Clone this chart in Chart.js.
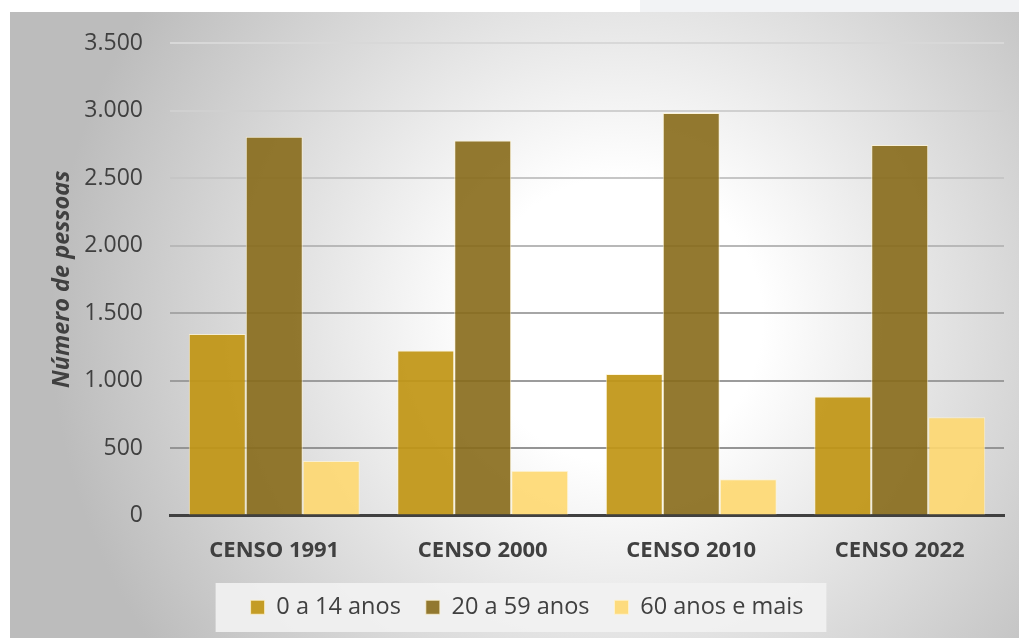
<!DOCTYPE html>
<html>
<head>
<meta charset="utf-8">
<script src="https://cdn.jsdelivr.net/npm/chart.js@4/dist/chart.umd.min.js"></script>
<style>
  html, body { margin: 0; padding: 0; background: #fff; }
  #wrap { width: 1019px; height: 638px; position: relative; }
</style>
</head>
<body>
<div id="wrap"><canvas id="censoChart"></canvas></div>
<script>
const $ = (id) => document.getElementById(id);

const censos = ["CENSO 1991", "CENSO 2000", "CENSO 2010", "CENSO 2022"];
const faixa0a14 = [1345, 1222, 1048, 881];
const faixa20a59 = [2806, 2777, 2982, 2745];
const faixa60mais = [403, 332, 269, 727];
const yTicks = [0, 500, 1000, 1500, 2000, 2500, 3000, 3500];

const TEXT = "#404040";
const FONT = "'Open Sans', 'Noto Sans', sans-serif";

function fmtPt(n) {
  return String(n).replace(/\B(?=(\d{3})+(?!\d))/g, ".");
}

// lighter grid at the top, darker near the axis
const gridShade = {
  0: "rgba(0,0,0,0)", 500: "#949494", 1000: "#9c9c9c", 1500: "#a6a6a6",
  2000: "#b8b8b8", 2500: "#c6c6c6", 3000: "#d0d0d0", 3500: "#d8d8d8",
};

const LEGEND_SHIFT = 20;

const backdrop = {
  id: "backdrop",
  afterLayout(chart) {
    const lg = chart.legend;
    lg.left += LEGEND_SHIFT;
    lg.right += LEGEND_SHIFT;
  },
  beforeDraw(chart) {
    const { ctx, width, height } = chart;
    ctx.save();
    ctx.fillStyle = "#ffffff";
    ctx.fillRect(0, 0, width, height);
    ctx.fillStyle = "#f2f3f5";
    ctx.fillRect(640, 0, width - 640, 12);

    const g = ctx.createRadialGradient(620, 320, 0, 620, 320, 570);
    g.addColorStop(0, "#ffffff");
    g.addColorStop(0.25, "#ffffff");
    g.addColorStop(1, "#bcbcbc");
    ctx.fillStyle = g;
    ctx.fillRect(10, 12, width - 10, height - 12);

    // legend panel, built from the legend's own layout
    const lg = chart.legend;
    const pad = lg.options.labels.padding;
    const lw = lg.lineWidths[0];
    const x0 = (lg.left + pad + lg.right - lw) / 2;
    const x1 = x0 + lw - pad;
    const cy = lg.top + pad + 11.5;
    ctx.fillStyle = "rgba(242,242,242,0.9)";
    ctx.fillRect(x0 - 35, cy - 24, x1 - x0 + 58, 49);
    ctx.restore();
  },
};

function barSet(label, data, color) {
  return {
    label,
    data,
    backgroundColor: color,
    borderColor: "rgba(255,244,210,0.75)",
    borderWidth: 1,
    categoryPercentage: 0.82,
    barPercentage: 1.0,
  };
}

function renderChart() {
  const ctx = $("censoChart").getContext("2d");
  return new Chart(ctx, {
    type: "bar",
    data: {
      labels: censos,
      datasets: [
        barSet("0 a 14 anos", faixa0a14, "rgba(193,150,22,0.93)"),
        barSet("20 a 59 anos", faixa20a59, "rgba(135,106,26,0.9)"),
        barSet("60 anos e mais", faixa60mais, "rgba(254,216,112,0.9)"),
      ],
    },
    options: {
      responsive: true,
      maintainAspectRatio: false,
      animation: false,
      layout: { padding: { left: 10, right: 15, top: 43, bottom: 9 } },
      plugins: {
        tooltip: { enabled: false },
        legend: {
          position: "bottom",
          labels: {
            color: TEXT,
            font: { family: FONT, size: 23.5 },
            boxWidth: 14,
            boxHeight: 14,
            padding: 25,
          },
        },
      },
      scales: {
        x: {
          grid: { display: false, drawTicks: false },
          border: { display: true, color: "#404040", width: 3 },
          ticks: { color: TEXT, padding: 22, font: { family: FONT, size: 22, weight: "bold" } },
          afterFit(scale) { scale.height = 55; },
        },
        y: {
          min: 0,
          max: 3500,
          afterBuildTicks(scale) { scale.ticks = yTicks.map((v) => ({ value: v })); },
          grid: {
            drawTicks: false,
            lineWidth: 2,
            color: (c) => gridShade[c.tick.value] || "#bbbbbb",
          },
          border: { display: false },
          ticks: {
            color: TEXT,
            padding: 27,
            font: { family: FONT, size: 23 },
            callback: (v) => fmtPt(v),
          },
          title: {
            display: true,
            text: "Número de pessoas",
            color: TEXT,
            font: { family: FONT, size: 23.5, weight: "bold", style: "italic" },
            padding: { top: 38, bottom: 0 },
          },
          afterFit(scale) { scale.width = 160; },
        },
      },
    },
    plugins: [backdrop],
  });
}

renderChart();
</script>
</body>
</html>
